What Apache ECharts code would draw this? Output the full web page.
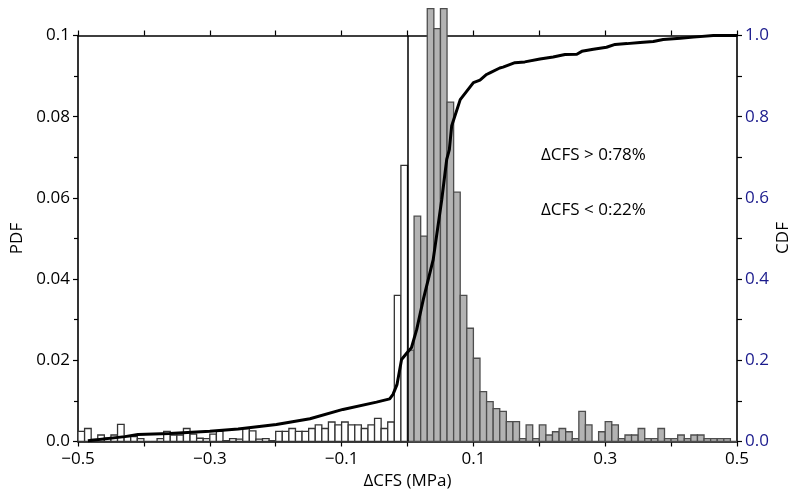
<!DOCTYPE html>
<html><head><meta charset="utf-8">
<script src="https://cdn.jsdelivr.net/npm/echarts@6/dist/echarts.min.js"></script>
<style>html,body{margin:0;padding:0;background:#fff}#c{width:792px;height:494px}</style>
</head><body><div id="c"></div>
<script>
// Histogram bins: left edge of first bin and bin width (MPa)
const binStart = -0.5;
const binWidth = 0.01;
// PDF per bin, bins from -0.50 to 0.49
const pdfValues = [
  0.0025, 0.0032, 0.0005, 0.0016, 0.0008, 0.0016, 0.0042, 0.0012, 0.0012, 0.0007,
  0.0000, 0.0000, 0.0007, 0.0025, 0.0016, 0.0016, 0.0032, 0.0018, 0.0008, 0.0007,
  0.0018, 0.0025, 0.0002, 0.0007, 0.0006, 0.0032, 0.0026, 0.0006, 0.0007, 0.0002,
  0.0025, 0.0025, 0.0032, 0.0025, 0.0025, 0.0032, 0.0041, 0.0032, 0.0048, 0.0041,
  0.0048, 0.0041, 0.0041, 0.0032, 0.0041, 0.0057, 0.0032, 0.0048, 0.0360, 0.0680,
  0.0225, 0.0555, 0.0506, 0.1066, 0.1017, 0.1066, 0.0836, 0.0614, 0.0360, 0.0279,
  0.0205, 0.0123, 0.0098, 0.0081, 0.0074, 0.0049, 0.0049, 0.0007, 0.0041, 0.0007,
  0.0041, 0.0016, 0.0024, 0.0032, 0.0024, 0.0007, 0.0074, 0.0041, 0.0000, 0.0024,
  0.0049, 0.0041, 0.0007, 0.0016, 0.0016, 0.0032, 0.0007, 0.0007, 0.0032, 0.0007,
  0.0007, 0.0016, 0.0007, 0.0016, 0.0016, 0.0007, 0.0007, 0.0007, 0.0007, 0.0000
];
// CDF curve
const cdfX = [-0.485, -0.429, -0.409, -0.361, -0.300, -0.257, -0.199, -0.148, -0.098, -0.047,
  -0.027, -0.022, -0.016, -0.009, -0.001, 0.006, 0.014, 0.024, 0.039, 0.052, 0.0595, 0.0635,
  0.067, 0.080, 0.100, 0.110, 0.120, 0.125, 0.140, 0.145, 0.163, 0.178, 0.201, 0.221, 0.239,
  0.257, 0.2645, 0.282, 0.302, 0.315, 0.333, 0.353, 0.373, 0.388, 0.414, 0.434, 0.464, 0.500];
const cdfY = [0.002, 0.012, 0.017, 0.020, 0.025, 0.031, 0.042, 0.056, 0.079, 0.097,
  0.105, 0.116, 0.140, 0.202, 0.218, 0.231, 0.276, 0.350, 0.448, 0.596, 0.695, 0.719,
  0.777, 0.842, 0.884, 0.890, 0.904, 0.908, 0.920, 0.922, 0.933, 0.935, 0.942, 0.947, 0.953,
  0.954, 0.961, 0.966, 0.971, 0.978, 0.980, 0.983, 0.985, 0.990, 0.993, 0.996, 1.000, 1.000];
// Tick labels
const xTickLabels = [-0.5, -0.3, -0.1, 0.1, 0.3, 0.5];
const annotations = ['ΔCFS > 0:78%', 'ΔCFS < 0:22%'];

const FONT = 'Open Sans';
const negData = [], posData = [];
pdfValues.forEach((v, i) => {
  const x0 = +(binStart + i * binWidth).toFixed(4);
  const x1 = +(x0 + binWidth).toFixed(4);
  (x0 < 0 ? negData : posData).push([x0, x1, v]);
});

function makeRender(fill, stroke) {
  return function (params, api) {
    const x0 = api.value(0), x1 = api.value(1), h = api.value(2);
    const p0 = api.coord([x0, h]);
    const p1 = api.coord([x1, 0]);
    return {
      type: 'rect',
      shape: { x: p0[0], y: p0[1], width: p1[0] - p0[0], height: p1[1] - p0[1] },
      style: { fill: fill, stroke: stroke, lineWidth: 1.3 }
    };
  };
}

function fmtX(v) {
  const r = Math.round(v * 10) / 10;
  if (!xTickLabels.some(t => Math.abs(t - r) < 1e-9)) return '';
  return (r < 0 ? '\u2212' : '') + Math.abs(r).toFixed(1);
}
function fmtL(v) {
  if (Math.abs(v) < 1e-9) return '0.0';
  if (Math.abs(v - 0.1) < 1e-9) return '0.1';
  return v.toFixed(2);
}

const axisLineStyle = { color: '#000', width: 1.6 };
const chart = echarts.init(document.getElementById('c'), null, { renderer: 'canvas' });
chart.setOption({
  animation: false,
  backgroundColor: '#fff',
  grid: { left: 78, right: 55, top: 35.5, bottom: 52.5, containLabel: false, outerBoundsMode: 'none' },
  xAxis: [{
    type: 'value', min: -0.5, max: 0.5, interval: 0.1, position: 'bottom',
    axisLine: { show: true, onZero: false, lineStyle: axisLineStyle },
    axisTick: { show: true, length: 5, lineStyle: { color: '#000', width: 1.2 } },
    axisLabel: { formatter: fmtX, fontSize: 17, color: '#000', fontFamily: FONT, margin: 9, showMinLabel: true, showMaxLabel: true },
    splitLine: { show: false },
    name: 'ΔCFS (MPa)', nameLocation: 'middle', nameGap: 31,
    nameTextStyle: { fontSize: 17, color: '#000', fontFamily: FONT }
  }, {
    type: 'value', min: -0.5, max: 0.5, interval: 0.1, position: 'top',
    axisLine: { show: true, onZero: false, lineStyle: axisLineStyle },
    axisTick: { show: true, length: 5, lineStyle: { color: '#000', width: 1.2 } },
    axisLabel: { show: false }, splitLine: { show: false }
  }],
  yAxis: [{
    type: 'value', min: 0, max: 0.1, interval: 0.02, position: 'left',
    axisLine: { show: true, onZero: false, lineStyle: axisLineStyle },
    axisTick: { show: true, length: 5, lineStyle: { color: '#000', width: 1.2 } },
    minorTick: { show: true, splitNumber: 2, length: 4, lineStyle: { color: '#000', width: 1.2 } },
    axisLabel: { formatter: fmtL, fontSize: 17, color: '#000', fontFamily: FONT, margin: 8 },
    splitLine: { show: false },
    name: 'PDF', nameLocation: 'middle', nameGap: 52, nameRotate: 90,
    nameTextStyle: { fontSize: 17, color: '#000', fontFamily: FONT }
  }, {
    type: 'value', min: 0, max: 1, interval: 0.2, position: 'right',
    axisLine: { show: true, onZero: false, lineStyle: axisLineStyle },
    axisTick: { show: true, length: 5, lineStyle: { color: '#000', width: 1.2 } },
    minorTick: { show: true, splitNumber: 2, length: 5, lineStyle: { color: '#000', width: 1.2 } },
    axisLabel: { formatter: v => v.toFixed(1), fontSize: 17, color: '#1a1a8c', fontFamily: FONT, margin: 8 },
    splitLine: { show: false }
  }],
  series: [{
    type: 'custom', name: 'neg', xAxisIndex: 0, yAxisIndex: 0, clip: false,
    renderItem: makeRender('#ffffff', '#333333'),
    encode: { x: [0, 1], y: 2 }, data: negData, z: 2,
    markLine: {
      silent: true, symbol: 'none', label: { show: false },
      lineStyle: { color: '#000', width: 1.5, type: 'solid' },
      data: [{ xAxis: 0 }]
    }
  }, {
    type: 'custom', name: 'pos', xAxisIndex: 0, yAxisIndex: 0, clip: false,
    renderItem: makeRender('#b3b3b3', '#4d4d4d'),
    encode: { x: [0, 1], y: 2 }, data: posData, z: 3
  }, {
    type: 'line', name: 'CDF', xAxisIndex: 0, yAxisIndex: 1,
    data: cdfX.map((x, i) => [x, cdfY[i]]),
    showSymbol: false, symbol: 'none', z: 5,
    lineStyle: { color: '#000', width: 3 }
  }],
  graphic: [
    { type: 'text', left: 541, top: 147, style: { text: annotations[0], fontSize: 17, fill: '#000', fontFamily: FONT } },
    { type: 'text', left: 541, top: 202, style: { text: annotations[1], fontSize: 17, fill: '#000', fontFamily: FONT } },
    { type: 'text', x: 783, y: 238, rotation: Math.PI / 2,
      style: { text: 'CDF', fontSize: 17, fill: '#000', fontFamily: FONT, align: 'center', verticalAlign: 'middle' } }
  ]
});
</script></body></html>
